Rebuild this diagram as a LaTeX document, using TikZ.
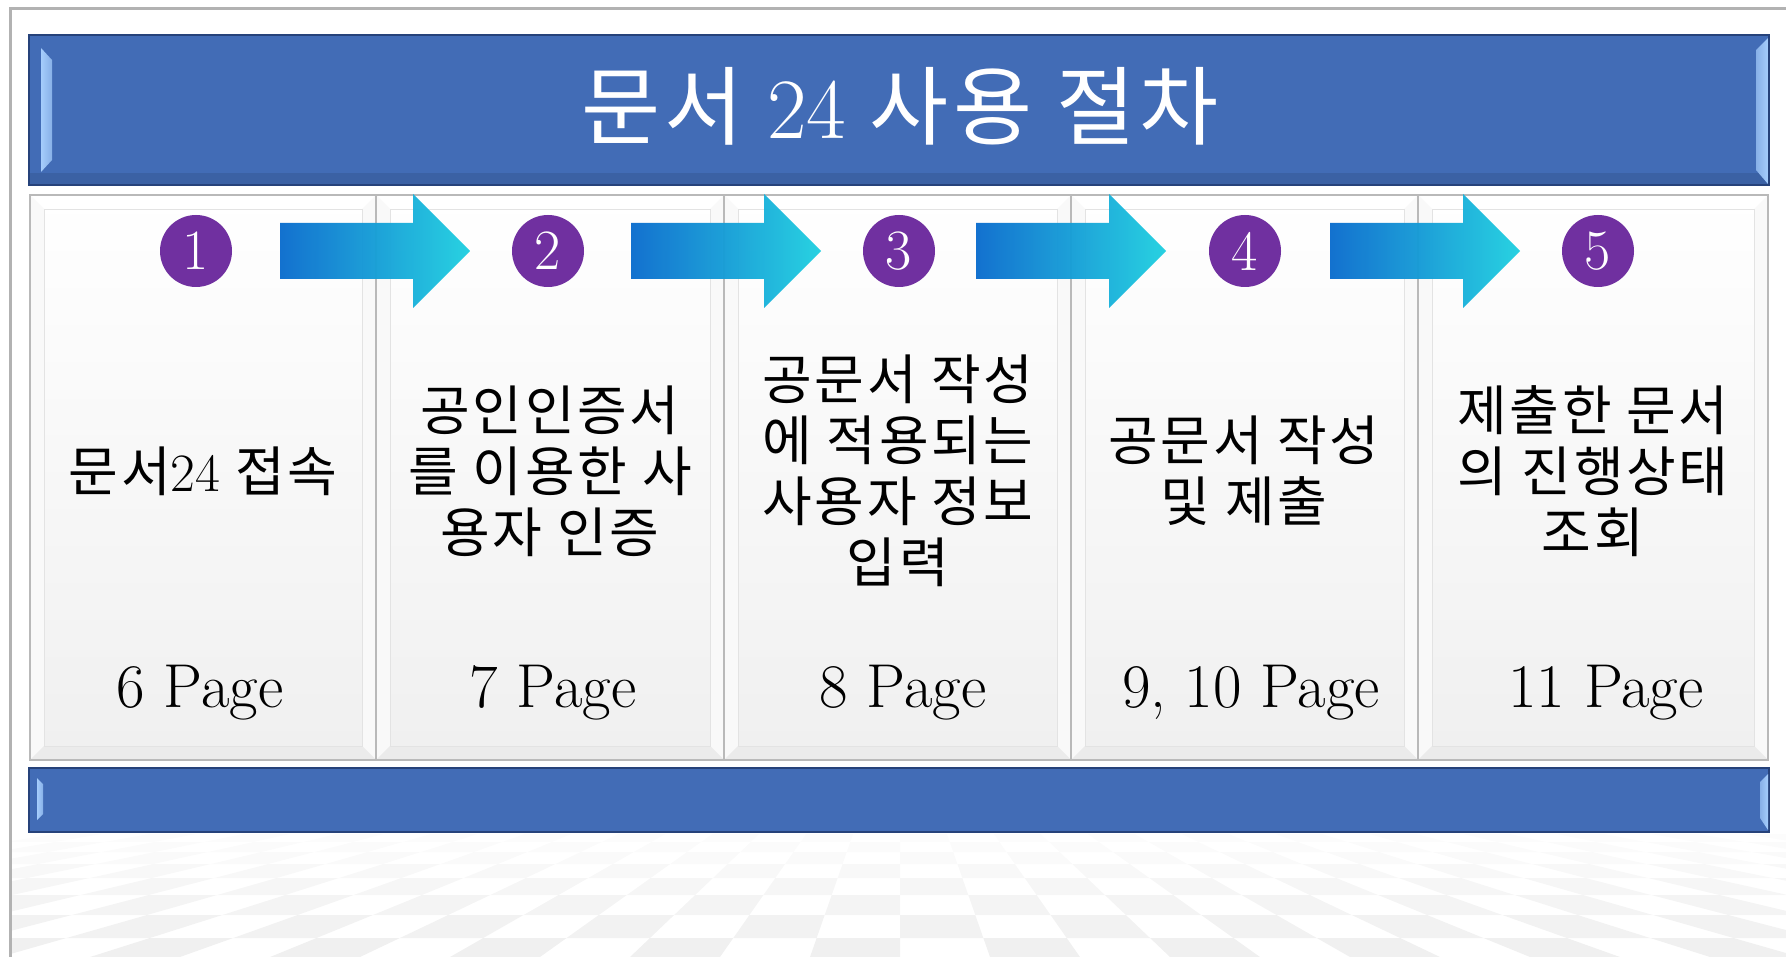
\documentclass[tikz,border=0pt]{standalone}
\usepackage{fontspec}
\newfontfamily\kr[LetterSpace=5]{Noto Sans CJK KR}
\usetikzlibrary{calc}
\definecolor{barblue}{RGB}{66,108,182}
\definecolor{bardark}{RGB}{38,66,122}
\definecolor{bevlight}{RGB}{165,205,252}
\definecolor{numpurple}{RGB}{112,48,160}
\definecolor{arrA}{RGB}{10,108,206}
\definecolor{arrB}{RGB}{58,160,235}
\definecolor{arrC}{RGB}{32,208,224}
\definecolor{framegray}{RGB}{178,178,178}
\tikzset{
  numc/.style={circle, fill=numpurple, minimum size=72pt, inner sep=0pt, text=white, font=\fontsize{57}{57}\selectfont},
  steptext/.style={align=center, font=\kr\fontsize{54}{61}\selectfont, text=black, inner sep=0pt},
  pagetext/.style={font=\fontsize{62}{62}\selectfont, text=black, inner sep=0pt},
  titletext/.style={font=\kr\fontsize{86}{86}\selectfont, text=white, inner sep=0pt},
  panelbox/.style={draw=gray!55, line width=1.5pt, top color=white, bottom color=gray!12},
  bevside/.style={fill=gray!5},
  bevbottom/.style={fill=gray!16},
  flowarrow/.style={left color=arrA, middle color=arrB, right color=arrC, opacity=0.96},
  bar/.style={fill=barblue, draw=bardark, line width=1.5pt},
  barhl/.style={left color=bevlight, right color=bevlight!70!barblue},
}
\begin{document}
\begin{tikzpicture}[x=1pt,y=-1pt]
\useasboundingbox (0,0) rectangle (1786,957);
\fill[white] (0,0) rectangle (1786,957);
% floor
\begin{scope}
\clip (11,834) rectangle (1786,957);
\foreach \ya/\yb/\op/\p in {834/842/0.01/0, 842/852/0.015/1, 852/864/0.02/0, 864/878/0.028/1, 878/895/0.035/0, 895/915/0.042/1, 915/938/0.05/0, 938/964/0.058/1}{
  \foreach \j in {-24,...,23}{
    \pgfmathparse{int(mod(\j+\p+100,2))}
    \ifnum\pgfmathresult=0
      \fill[black, opacity=\op] ({900+\j*0.35019*(\ya-700)},\ya) -- ({900+(\j+1)*0.35019*(\ya-700)},\ya) -- ({900+(\j+1)*0.35019*(\yb-700)},\yb) -- ({900+\j*0.35019*(\yb-700)},\yb) -- cycle;
    \fi
  }
}
\end{scope}
% outer frame
\draw[framegray, line width=3pt] (10,957) -- (10,9) -- (1786,9);
% title bar
\path[bar] (29,35) rectangle (1769,185);
\fill[barblue!90!black] (30,173) rectangle (1768,184);
\path[barhl] (41,48) -- (52,60) -- (52,160) -- (41,172) -- cycle;
\path[barhl, left color=bevlight!70!barblue, right color=bevlight] (1756,50) -- (1768,38) -- (1768,184) -- (1756,170) -- cycle;
\node[titletext] (title) at (900,106) {문서 {\rmfamily 24} 사용 절차};
% panels
\foreach \a/\b [count=\k] in {30/376, 376/724, 724/1071, 1071/1418, 1418/1768}{
  \path[panelbox] (\a,195) rectangle (\b,760);
  \fill[bevside] (\a+1,196) -- (\a+14,209) -- (\a+14,746) -- (\a+1,759) -- cycle;
  \fill[bevside] (\b-1,196) -- (\b-14,209) -- (\b-14,746) -- (\b-1,759) -- cycle;
  \fill[bevbottom] (\a+1,759) -- (\a+14,746) -- (\b-14,746) -- (\b-1,759) -- cycle;
  \draw[gray!22, line width=0.8pt] (\a+14,209) rectangle (\b-14,746);
  \draw[gray!55, line width=1.5pt] (\a,195) rectangle (\b,760);
}
% arrows
\foreach \s in {280, 631, 976, 1330}{
  \path[flowarrow] (\s,223) -- (\s+133,223) -- (\s+133,194) -- (\s+190,251) -- (\s+133,308) -- (\s+133,279) -- (\s,279) -- cycle;
}
% numbers
\node[numc] (n1) at (196,251) {1};
\node[numc] (n2) at (548,251) {2};
\node[numc] (n3) at (899,251) {3};
\node[numc] (n4) at (1245,251) {4};
\node[numc] (n5) at (1598,251) {5};
% step texts
\node[steptext] (t1) at (203,471) {문서{\rmfamily 24} 접속};
\node[steptext] (t2) at (550,471) {공인인증서\\를 이용한 사\\용자 인증};
\node[steptext] (t3) at (898,471) {공문서 작성\\에 적용되는\\사용자 정보\\입력};
\node[steptext] (t4) at (1244,471) {공문서 작성\\및 제출};
\node[steptext] (t5) at (1593,471) {제출한 문서\\의 진행상태\\조회};
% pages
\node[pagetext] (p1) at (200,693) {6 Page};
\node[pagetext] (p2) at (553,693) {7 Page};
\node[pagetext] (p3) at (903,693) {8 Page};
\node[pagetext] (p4) at (1251,693) {9, 10 Page};
\node[pagetext] (p5) at (1606,693) {11 Page};
% bottom bar
\path[bar] (29,768) rectangle (1769,832);
\path[barhl] (37,778) -- (43,784) -- (43,814) -- (37,820) -- cycle;
\path[barhl, left color=bevlight!70!barblue, right color=bevlight] (1760,782) -- (1768,774) -- (1768,830) -- (1760,818) -- cycle;
\end{tikzpicture}
\end{document}
